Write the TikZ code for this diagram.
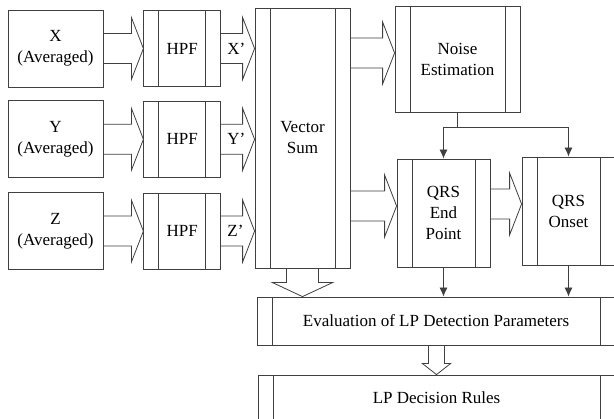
\documentclass[tikz,border=0pt]{standalone}
\usepackage{fontspec}
\setmainfont{Liberation Serif}
\usepackage{tikz}
\usetikzlibrary{arrows.meta,positioning,calc}
\tikzstyle{line}=[draw=black!75, line width=0.8pt]
\tikzstyle{block}=[line, rectangle, align=center, inner sep=0pt, minimum width=95pt, minimum height=77pt]
\tikzstyle{proc}=[line, rectangle, align=center, inner sep=0pt,
  path picture={
    \draw[line] ([xshift=15pt]path picture bounding box.north west) -- ([xshift=15pt]path picture bounding box.south west);
    \draw[line] ([xshift=-15pt]path picture bounding box.north east) -- ([xshift=-15pt]path picture bounding box.south east);
  }]
\tikzstyle{lbl}=[inner sep=3pt]
\tikzset{
  fat/.style={line, to path={let \p1=(\tikztostart), \p2=(\tikztotarget) in
    (\x1,\y2+15pt) -- (\x2-12pt,\y2+15pt) -- (\x2-12pt,\y2+31pt) -- (\x2,\y2)
    -- (\x2-12pt,\y2-31pt) -- (\x2-12pt,\y2-15pt) -- (\x1,\y2-15pt)}},
  fatdown/.style n args={3}{line, to path={let \p1=(\tikztostart), \p2=(\tikztotarget) in
    (\x2-#1,\y1) -- (\x2-#1,\y2+#3) -- (\x2-#2,\y2+#3) -- (\x2,\y2)
    -- (\x2+#2,\y2+#3) -- (\x2+#1,\y2+#3) -- (\x2+#1,\y1)}}
}

\begin{document}
\begin{tikzpicture}[x=1pt,y=-1pt,>={Latex[length=9pt,width=8pt]},font=\fontsize{17}{21}\selectfont]
        \useasboundingbox[fill=white] (0,0) rectangle (614,419);
        % inputs and filters
        \node [block] (xin) at (55.5,48.5) {X\\(Averaged)};
        \node [block] (yin) [below=13pt of xin] {Y\\(Averaged)};
        \node [block] (zin) [below=14pt of yin] {Z\\(Averaged)};
        \node [proc, minimum width=77pt, minimum height=76pt] (xhpf) [right=40pt of xin] {HPF};
        \node [proc, minimum width=77pt, minimum height=76pt] (yhpf) [right=40pt of yin] {HPF};
        \node [proc, minimum width=77pt, minimum height=76pt] (zhpf) [right=40pt of zin] {HPF};
        % processing
        \node [proc, minimum width=95pt, minimum height=260pt] (vsum) at (302.5,138) {Vector\\Sum};
        \node [proc, minimum width=125pt, minimum height=106pt] (noise) at (457.5,59) {Noise\\Estimation};
        \node [proc, minimum width=93pt, minimum height=108pt] (qrsend) at (443.5,213) {QRS\\End\\Point};
        \node [proc, minimum width=93pt, minimum height=108pt] (qrsonset) at (568.5,211) {QRS\\Onset};
        \node [proc, minimum width=358pt, minimum height=48pt] (eval) at (436,321) {Evaluation of LP Detection Parameters};
        \node [proc, minimum width=357pt, minimum height=46pt] (rules) at (436.5,398) {LP Decision Rules};
        % hollow arrows
        \draw[fat] (xin.east) to (xhpf.west);
        \draw[fat] (yin.east) to (yhpf.west);
        \draw[fat] (zin.east) to (zhpf.west);
        \draw[fat] (xhpf.east) to (vsum.west |- xhpf.east);
        \draw[fat] (yhpf.east) to (vsum.west |- yhpf.east);
        \draw[fat] (zhpf.east) to (vsum.west |- zhpf.east);
        \node [lbl, right=3pt of xhpf.east] (xp) {X'};
        \node [lbl, right=3pt of yhpf.east] (yp) {Y'};
        \node [lbl, right=3pt of zhpf.east] (zp) {Z'};
        \draw[fat] (vsum.east) to ([yshift=6pt]noise.west);
        \draw[fat] (vsum.east) to ([yshift=7pt]qrsend.west);
        \draw[fat] (qrsend.east) to ([yshift=7pt]qrsonset.west);
        \draw[fatdown={16pt}{30pt}{14pt}] (vsum.south) to (vsum.south |- eval.north);
        \draw[fatdown={8pt}{14pt}{11pt}] (eval.south) to (rules.north);
        % thin arrows
        \coordinate (split) at ($(noise.south)+(0,15)$);
        \draw[line] (noise.south) -- (split);
        \draw[line,->] (split) -| (qrsend.north);
        \draw[line,->] (split) -| (qrsonset.north);
        \draw[line,->] (qrsend.south) -- (qrsend.south |- eval.north);
        \draw[line,->] (qrsonset.south) -- (qrsonset.south |- eval.north);
    \end{tikzpicture}
\end{document}
